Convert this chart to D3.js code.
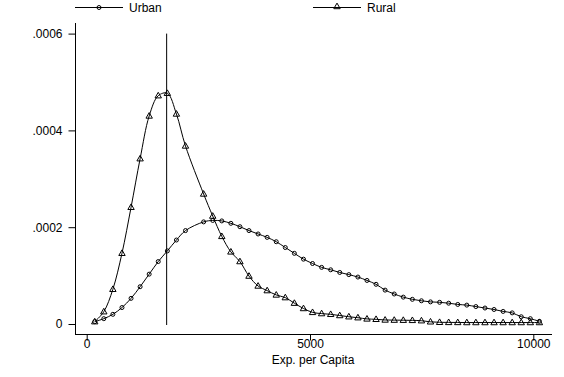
<!DOCTYPE html>
<html>
<head>
<meta charset="utf-8">
<script src="https://cdn.jsdelivr.net/npm/d3@7"></script>
<style>
  body { margin: 0; background: #fff; }
  svg { display: block; font-family: Arial, "Liberation Sans", sans-serif; }
</style>
</head>
<body>
<div id="chart"></div>
<script>
// kernel density of expenditure per capita, evaluated on a common grid
// (densities given in units of 1e-4)
const expX = [180, 383, 586, 790, 993, 1196, 1399, 1602, 1806, 2009, 2212,
  2618, 2822, 3025, 3228, 3431, 3634, 3838, 4041, 4244,
  4447, 4650, 4854, 5057, 5260, 5463, 5666, 5870, 6073, 6276,
  6479, 6682, 6886, 7089, 7292, 7495, 7698, 7902, 8105, 8308,
  8511, 8714, 8918, 9121, 9324, 9527, 9730, 9934, 10137];

const urban = [0.048, 0.11, 0.20, 0.34, 0.53, 0.77, 1.03, 1.29, 1.51, 1.735, 1.93,
  2.11, 2.14, 2.13, 2.08, 2.01, 1.93, 1.86, 1.79, 1.70,
  1.58, 1.46, 1.34, 1.25, 1.17, 1.12, 1.065, 1.02, 0.97, 0.90,
  0.82, 0.70, 0.62, 0.555, 0.51, 0.48, 0.457, 0.448, 0.43, 0.404,
  0.39, 0.36, 0.33, 0.30, 0.26, 0.23, 0.15, 0.11, 0.055];

const rural = [0.048, 0.254, 0.717, 1.461, 2.411, 3.415, 4.298, 4.717, 4.767, 4.339, 3.678,
  2.686, 2.23, 1.81, 1.49, 1.29, 0.99, 0.785, 0.69, 0.60,
  0.545, 0.43, 0.32, 0.24, 0.215, 0.20, 0.175, 0.15, 0.13, 0.105,
  0.097, 0.083, 0.08, 0.078, 0.075, 0.068, 0.045, 0.035, 0.033, 0.032,
  0.03, 0.03, 0.03, 0.03, 0.03, 0.03, 0.03, 0.03, 0.03];

const seriesNames = ["Urban", "Rural"];
const xTicks = [0, 5000, 10000];
const yTicks = [0, 0.0002, 0.0004, 0.0006];
const yTickLabels = ["0", ".0002", ".0004", ".0006"];
const refLine = 1790;   // vertical reference line
const xTitle = "Exp. per Capita";

let width = 564, height = 377;

let svg = d3.select("#chart").append("svg")
  .attr("width", width)
  .attr("height", height);

let x = d3.scaleLinear().domain([0, 10000]).range([86.7, 533.3]);
let y = d3.scaleLinear().domain([0, 0.0006]).range([324, 33.6]);

// axis lines (extend past the scale range, as in the original)
svg.append("line")
  .attr("x1", 75.5).attr("x2", 75.5).attr("y1", 23).attr("y2", 334.5)
  .attr("stroke", "#000");
svg.append("line")
  .attr("x1", 75).attr("x2", 552).attr("y1", 334.5).attr("y2", 334.5)
  .attr("stroke", "#000");

let yAxis = svg.append("g")
  .attr("transform", "translate(75.5,0)")
  .call(d3.axisLeft(y).tickValues(yTicks).tickSize(7).tickSizeOuter(0)
    .tickFormat((d, i) => yTickLabels[i]));
yAxis.select(".domain").remove();
yAxis.selectAll("text").attr("font-size", 12).attr("font-family", null).attr("x", -13);

let xAxis = svg.append("g")
  .attr("transform", "translate(0,334.5)")
  .call(d3.axisBottom(x).tickValues(xTicks).tickSize(6).tickSizeOuter(0)
    .tickFormat(d3.format("d")));
xAxis.select(".domain").remove();
xAxis.selectAll("text").attr("font-size", 12).attr("font-family", null).attr("y", 5);

svg.append("text")
  .attr("x", x(5000) + 3)
  .attr("y", 364)
  .attr("text-anchor", "middle")
  .attr("font-size", 12)
  .text(xTitle);

// reference line
svg.append("line")
  .attr("x1", x(refLine)).attr("x2", x(refLine))
  .attr("y1", y(0.0006)).attr("y2", y(0) + 1)
  .attr("stroke", "#000");

let line = d3.line()
  .x(d => x(d[0]))
  .y(d => y(d[1] * 1e-4))
  .curve(d3.curveCatmullRom);

let urbanPts = expX.map((v, i) => [v, urban[i]]);
let ruralPts = expX.map((v, i) => [v, rural[i]]);

let tri = "M0,-3.4L3.2,2.2L-3.2,2.2Z";

function drawSeries(pts, marker) {
  svg.append("path")
    .datum(pts)
    .attr("fill", "none")
    .attr("stroke", "#000")
    .attr("stroke-width", 1)
    .attr("d", line);
  let g = svg.append("g");
  if (marker === "circle") {
    g.selectAll("circle").data(pts).enter().append("circle")
      .attr("cx", d => x(d[0]))
      .attr("cy", d => y(d[1] * 1e-4))
      .attr("r", 2)
      .attr("fill", "none")
      .attr("stroke", "#000");
  } else {
    g.selectAll("path").data(pts).enter().append("path")
      .attr("d", tri)
      .attr("transform", d => `translate(${x(d[0])},${y(d[1] * 1e-4)})`)
      .attr("fill", "none")
      .attr("stroke", "#000");
  }
}

drawSeries(urbanPts, "circle");
drawSeries(ruralPts, "triangle");

// legend
let legend = svg.append("g");
let legendPos = [75, 313];
seriesNames.forEach((name, i) => {
  let lx = legendPos[i];
  legend.append("line")
    .attr("x1", lx).attr("x2", lx + 48).attr("y1", 7.5).attr("y2", 7.5)
    .attr("stroke", "#000");
  if (i === 0) {
    legend.append("circle").attr("cx", lx + 24).attr("cy", 7.5).attr("r", 2)
      .attr("fill", "none").attr("stroke", "#000");
  } else {
    legend.append("path").attr("d", tri)
      .attr("transform", `translate(${lx + 24},6.5)`)
      .attr("fill", "none").attr("stroke", "#000");
  }
  legend.append("text")
    .attr("x", lx + 54).attr("y", 12)
    .attr("font-size", 12)
    .text(name);
});
</script>
</body>
</html>
